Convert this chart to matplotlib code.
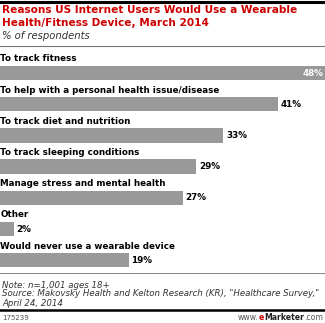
import matplotlib
matplotlib.use("Agg")
import matplotlib.pyplot as plt
from matplotlib.lines import Line2D

categories = [
    "To track fitness",
    "To help with a personal health issue/disease",
    "To track diet and nutrition",
    "To track sleeping conditions",
    "Manage stress and mental health",
    "Other",
    "Would never use a wearable device",
]
values = [48, 41, 33, 29, 27, 2, 19]
value_labels = ["48%", "41%", "33%", "29%", "27%", "2%", "19%"]

W, H = 325, 323
fig = plt.figure(figsize=(W / 100, H / 100), dpi=100)
fig.patch.set_facecolor("white")

def fy(px):
    return 1 - px / H

# top black bar
fig.add_artist(Line2D([0, 1], [fy(1.5), fy(1.5)], color="black", lw=2.2, transform=fig.transFigure))

fig.text(2 / W, fy(10), "Reasons US Internet Users Would Use a Wearable",
         color="#cc0000", fontsize=7.6, fontweight="bold", va="center", ha="left")
fig.text(2 / W, fy(23), "Health/Fitness Device, March 2014",
         color="#cc0000", fontsize=7.6, fontweight="bold", va="center", ha="left")
fig.text(2 / W, fy(36), "% of respondents", color="#333333", fontsize=7.2,
         fontstyle="italic", va="center", ha="left")
fig.add_artist(Line2D([0, 1], [fy(46), fy(46)], color="#777777", lw=0.8, transform=fig.transFigure))

# bars axes
n = len(categories)
top_px = 73 - 0.5 * 31.2
bot_px = 73 + (n - 0.5) * 31.2
ax = fig.add_axes([0, 1 - bot_px / H, 1, (bot_px - top_px) / H])
ax.set_xlim(0, 48)
ax.set_ylim(n - 0.5, -0.5)
ax.axis("off")
ypos = list(range(n))
ax.barh(ypos, values, height=0.46, color="#999999", edgecolor="none")
for i, (cat, v, lab) in enumerate(zip(categories, values, value_labels)):
    ax.text(0.05, i - 0.45, cat, fontsize=6.3, fontweight="bold", va="center", ha="left", color="black")
    if i == 0:
        ax.text(v - 0.3, i, lab, fontsize=6.3, fontweight="bold", va="center", ha="right", color="white")
    else:
        ax.text(v + 0.4, i, lab, fontsize=6.3, fontweight="bold", va="center", ha="left", color="black")

# footer
fig.add_artist(Line2D([0, 1], [fy(273), fy(273)], color="#888888", lw=0.7, transform=fig.transFigure))
fig.text(2 / W, fy(285), "Note: n=1,001 ages 18+", fontsize=6.2, fontstyle="italic",
         color="#333333", va="center", ha="left")
fig.text(2 / W, fy(294), 'Source: Makovsky Health and Kelton Research (KR), "Healthcare Survey,"',
         fontsize=6.2, fontstyle="italic", color="#333333", va="center", ha="left")
fig.text(2 / W, fy(303), "April 24, 2014", fontsize=6.2, fontstyle="italic",
         color="#333333", va="center", ha="left")
fig.add_artist(Line2D([0, 1], [fy(310), fy(310)], color="black", lw=1.8, transform=fig.transFigure))
fig.text(2 / W, fy(318), "175239", fontsize=5, color="#555555", va="center", ha="left")

fig.canvas.draw()
r = fig.canvas.get_renderer()
parts = [(".com", "#555555", "normal"), ("Marketer", "#222222", "bold"),
         ("e", "#cc0000", "bold"), ("www.", "#555555", "normal")]
xr = 323.0
for txt, col, wt in parts:
    t = fig.text(xr / W, fy(318), txt, fontsize=5.6, color=col, fontweight=wt,
                 va="center", ha="right")
    bb = t.get_window_extent(r)
    xr = bb.x0

fig.savefig("out.png", dpi=100)
